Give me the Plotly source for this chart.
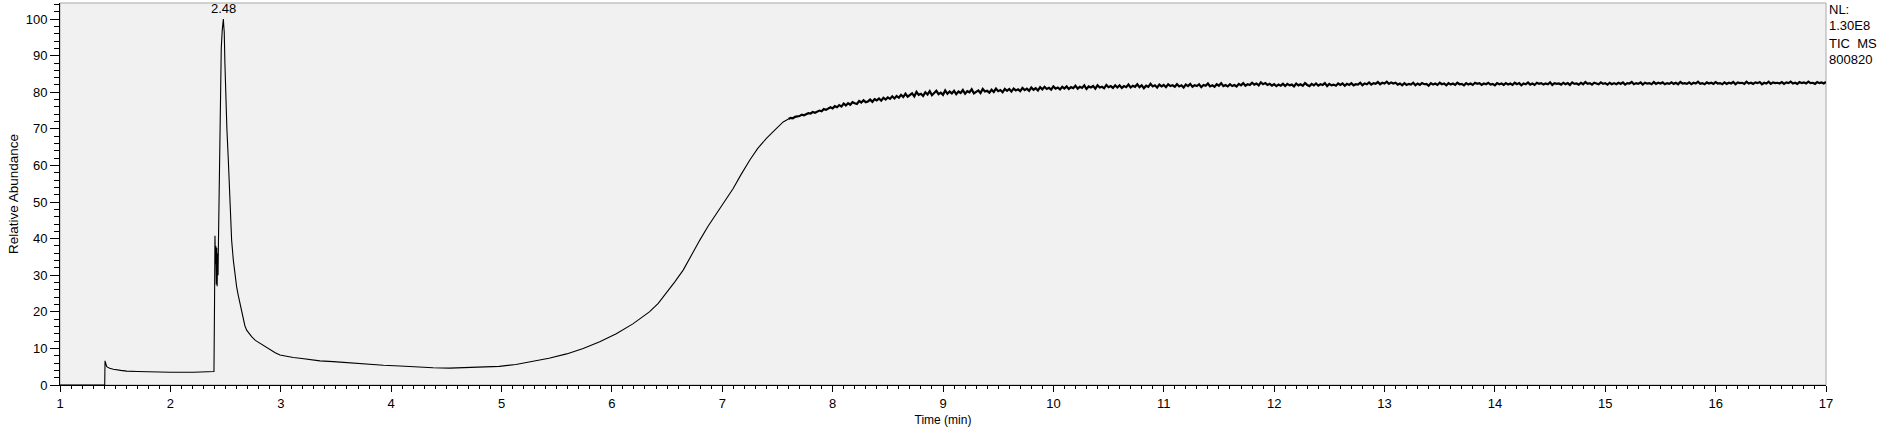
import plotly.graph_objects as go

# chromatogram, first part read as (time, relative abundance) pairs
peak_time = [1.00, 1.20, 1.405, 1.408, 1.415, 1.423, 1.45, 1.483, 1.55, 1.604, 1.70, 1.845, 2.00, 2.21, 2.30, 2.374,
             2.395, 2.400, 2.404, 2.408, 2.412, 2.416, 2.420, 2.424, 2.428, 2.432, 2.436, 2.443, 2.449, 2.455, 2.461,
             2.470, 2.476, 2.480, 2.484, 2.488, 2.494, 2.501, 2.512, 2.525, 2.540, 2.555, 2.570, 2.585, 2.600, 2.615,
             2.630, 2.645, 2.660, 2.675, 2.691, 2.712, 2.736, 2.770, 2.812, 2.855, 2.902, 2.950, 2.993, 3.05, 3.113,
             3.174, 3.234, 3.30, 3.355, 3.476, 3.60, 3.778, 3.93, 4.08, 4.23, 4.38, 4.53, 4.68, 4.83, 4.98, 5.13,
             5.28, 5.43, 5.59, 5.74, 5.89, 6.04, 6.19, 6.34, 6.42, 6.49, 6.57, 6.646, 6.72, 6.797, 6.87, 6.948,
             7.02, 7.099, 7.17, 7.25, 7.32, 7.40, 7.48, 7.552]
peak_abund = [0.0, 0.0, 0.0, 6.6, 5.3, 5.0, 4.6, 4.3, 4.0, 3.8, 3.7, 3.55, 3.5, 3.5, 3.6, 3.6,
              3.7, 22.0, 40.8, 33.0, 38.0, 27.5, 37.5, 27.0, 36.0, 30.0, 40.0, 55.0, 72.0, 83.0, 92.0,
              97.0, 99.5, 100.0, 98.0, 96.5, 88.0, 77.9, 70.0, 61.5, 48.7, 39.6, 34.2, 30.2, 26.9, 24.5,
              22.3, 20.0, 17.8, 16.2, 15.0, 14.0, 13.2, 12.2, 11.4, 10.4, 9.6, 8.8, 8.2, 7.8, 7.5,
              7.3, 7.0, 6.8, 6.6, 6.4, 6.1, 5.7, 5.4, 5.2, 4.9, 4.7, 4.6, 4.7, 4.8, 5.1, 5.6,
              6.4, 7.3, 8.5, 10.0, 11.8, 14.0, 16.7, 20.0, 22.3, 25.0, 28.2, 31.4, 35.5, 39.6, 43.3, 46.9,
              50.3, 53.7, 57.5, 61.5, 64.6, 67.4, 69.8, 71.9]

# plateau, sampled every 0.02 min from 7.60 to 17.00 (one row = 0.5 min)
plateau_start = 7.60
plateau_step = 0.02
plateau_abund = [
    72.7, 73.0, 72.9, 73.3, 73.4, 73.5, 73.9, 73.7, 74.0, 74.3, 74.2, 74.6, 74.4, 74.8, 75.0, 74.8, 75.4, 75.2, 75.5, 75.9, 75.6, 76.2, 75.9, 76.5, 76.1,
    76.9, 76.4, 77.0, 76.6, 77.3, 77.0, 76.8, 77.6, 77.2, 77.8, 77.3, 77.5, 78.0, 77.4, 78.1, 77.8, 78.3, 77.7, 78.5, 78.0, 78.6, 78.2, 78.9, 78.3, 79.0,
    78.5, 79.3, 78.7, 79.6, 78.8, 79.2, 79.7, 78.9, 80.1, 79.3, 79.6, 79.0, 80.0, 79.4, 80.3, 79.2, 79.8, 80.4, 79.5, 79.9, 79.3, 80.5, 79.6, 80.2, 79.7,
    80.4, 79.5, 80.2, 79.8, 80.6, 79.6, 80.3, 80.0, 80.8, 79.7, 80.1, 80.5, 79.8, 80.9, 80.2, 80.4, 79.9, 80.7, 80.1, 81.0, 80.3, 80.6, 80.0, 80.9, 80.4,
    80.9, 80.2, 81.0, 80.5, 80.8, 80.3, 81.2, 80.6, 81.0, 80.4, 81.3, 80.7, 81.1, 80.5, 81.4, 80.8, 81.5, 80.9, 81.2, 80.7, 81.6, 81.0, 81.3, 80.8, 81.5,
    81.0, 81.6, 80.9, 81.4, 81.1, 81.8, 81.0, 81.5, 81.2, 81.9, 80.9, 81.6, 81.3, 81.7, 81.0, 81.9, 81.3, 81.5, 81.1, 82.0, 81.4, 81.7, 81.2, 81.9, 81.3,
    81.9, 81.2, 81.7, 81.4, 82.1, 81.3, 81.8, 81.5, 82.2, 81.4, 81.9, 81.1, 81.8, 81.5, 82.3, 81.6, 81.9, 81.3, 82.1, 81.6, 82.0, 81.4, 82.2, 81.7, 81.9,
    81.5, 82.2, 81.6, 81.9, 81.3, 82.1, 81.7, 82.3, 81.5, 81.9, 81.7, 82.2, 81.4, 82.0, 81.8, 82.4, 81.6, 81.9, 81.5, 82.2, 81.8, 82.5, 81.7, 82.0, 81.6,
    82.2, 81.7, 82.0, 81.6, 82.3, 81.9, 82.5, 81.8, 82.2, 82.0, 82.6, 82.1, 82.4, 81.9, 82.7, 82.2, 82.5, 82.0, 82.3, 81.8, 82.2, 81.7, 82.1, 81.8, 82.3,
    81.7, 82.3, 81.9, 82.1, 81.6, 82.4, 81.9, 82.2, 81.8, 82.5, 82.0, 81.7, 82.3, 81.9, 82.4, 81.8, 82.2, 82.0, 82.5, 81.7, 82.3, 81.9, 82.1, 81.8, 82.4,
    82.0, 82.4, 81.8, 82.3, 82.0, 82.5, 81.9, 82.2, 82.1, 82.6, 81.9, 82.4, 82.2, 82.7, 82.1, 82.5, 82.3, 82.8, 82.2, 82.6, 82.4, 82.9, 82.3, 82.7, 82.4,
    82.6, 82.1, 82.4, 81.9, 82.5, 82.0, 82.3, 82.1, 82.6, 81.9, 82.4, 82.0, 82.5, 82.2, 82.3, 81.8, 82.5, 82.1, 82.4, 82.0, 82.6, 82.2, 82.4, 81.9, 82.5,
    82.1, 82.4, 82.0, 82.6, 82.2, 82.3, 81.9, 82.5, 82.1, 82.4, 82.0, 82.6, 82.3, 82.5, 82.0, 82.4, 82.2, 82.6, 82.1, 82.3, 81.9, 82.5, 82.2, 82.4, 82.0,
    82.5, 82.1, 82.4, 82.0, 82.6, 82.2, 82.5, 81.9, 82.4, 82.2, 82.7, 82.1, 82.4, 82.0, 82.6, 82.3, 82.5, 82.1, 82.4, 82.2, 82.7, 82.0, 82.5, 82.3, 82.4,
    82.1, 82.6, 82.2, 82.5, 82.0, 82.7, 82.3, 82.4, 82.1, 82.6, 82.2, 82.8, 82.3, 82.5, 82.1, 82.6, 82.4, 82.2, 82.7, 82.3, 82.5, 82.1, 82.6, 82.2, 82.5,
    82.2, 82.6, 82.3, 82.7, 82.1, 82.5, 82.4, 82.8, 82.2, 82.5, 82.3, 82.7, 82.1, 82.6, 82.4, 82.5, 82.2, 82.8, 82.3, 82.6, 82.4, 82.7, 82.2, 82.5, 82.3,
    82.7, 82.3, 82.6, 82.2, 82.8, 82.4, 82.5, 82.3, 82.7, 82.2, 82.6, 82.4, 82.9, 82.3, 82.5, 82.2, 82.7, 82.4, 82.6, 82.3, 82.8, 82.4, 82.5, 82.2, 82.7,
    82.3, 82.6, 82.4, 82.8, 82.2, 82.7, 82.5, 82.6, 82.3, 82.9, 82.4, 82.6, 82.3, 82.7, 82.5, 82.8, 82.2, 82.6, 82.4, 82.9, 82.3, 82.7, 82.5, 82.6, 82.4,
    82.8, 82.3, 82.7, 82.5, 82.9, 82.4, 82.6, 82.3, 82.8, 82.5, 82.7, 82.4, 82.9, 82.5, 82.6, 82.3, 82.8, 82.5, 82.7, 82.4, 82.8,
]

peak_label = "2.48"
peak_rt = 2.48
info_lines = ["NL:", "1.30E8", "TIC\u00a0\u00a0MS", "800820"]

plateau_time = [round(plateau_start + i * plateau_step, 2) for i in range(len(plateau_abund))]

font = "Arial, Liberation Sans, sans-serif"

fig = go.Figure()
fig.add_trace(go.Scatter(x=peak_time + plateau_time[:1], y=peak_abund + plateau_abund[:1], mode="lines",
                         line=dict(color="black", width=1.1), hoverinfo="skip"))
# the noisy plateau shows as a thick, fuzzy band
fig.add_trace(go.Scatter(x=plateau_time, y=plateau_abund, mode="lines",
                         line=dict(color="black", width=2.2), hoverinfo="skip"))

fig.update_layout(
    width=1882, height=436,
    margin=dict(l=60, r=56, t=3, b=51),
    paper_bgcolor="white", plot_bgcolor="#f1f1f1",
    showlegend=False,
    font=dict(family=font, size=13, color="black"),
)

fig.update_xaxes(
    range=[1, 17], tick0=1, dtick=1,
    showgrid=False, zeroline=False,
    showline=True, linecolor="black", linewidth=1,
    ticks="outside", ticklen=6, tickcolor="black",
    minor=dict(dtick=0.1, ticks="outside", ticklen=3, tickcolor="black", showgrid=False),
    tickfont=dict(size=13),
    title=dict(text="Time (min)", font=dict(size=12), standoff=6),
)
fig.update_yaxes(
    range=[0, 104.4], tick0=0, dtick=10,
    showgrid=False, zeroline=False,
    showline=True, linecolor="black", linewidth=1,
    ticks="outside", ticklen=9, tickcolor="black",
    minor=dict(dtick=2, ticks="outside", ticklen=5, tickcolor="black", showgrid=False),
    tickfont=dict(size=13),
    title=dict(text="Relative Abundance", font=dict(size=13.5), standoff=3),
)

# light grey frame on top and right of the panel
fig.add_shape(type="rect", xref="paper", yref="paper", x0=0, y0=0, x1=1, y1=1,
              line=dict(color="#a8a8a8", width=1), layer="below")

fig.add_annotation(x=peak_rt, y=100, text=peak_label, showarrow=False,
                   yanchor="bottom", yshift=1, font=dict(size=13))

info_y = [0.982, 0.942, 0.895, 0.851]
for txt, yy in zip(info_lines, info_y):
    fig.add_annotation(x=1, y=yy, xref="paper", yref="paper", text=txt, showarrow=False,
                       xanchor="left", yanchor="middle", xshift=1, font=dict(size=13))

fig.write_html("out.html", config={"displayModeBar": False},
               post_script="document.body.style.margin='0';document.body.style.overflow='hidden';")
